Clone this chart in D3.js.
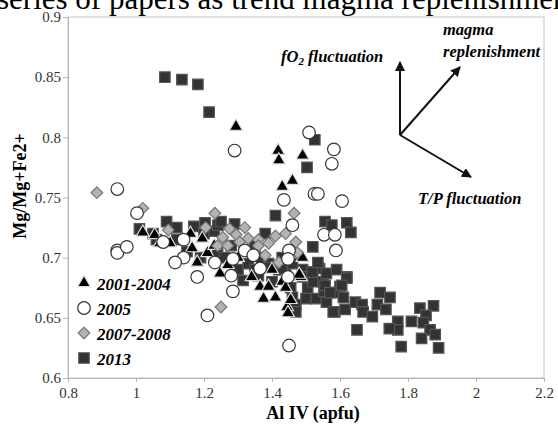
<!DOCTYPE html>
<html>
<head>
<meta charset="utf-8">
<script src="https://cdn.jsdelivr.net/npm/d3@7"></script>
<style>
  body { margin: 0; background: #fff; }
  svg { display: block; }
</style>
</head>
<body>
<svg width="558" height="434"></svg>
<script>
// tick labels
const xTicks = [0.8, 1, 1.2, 1.4, 1.6, 1.8, 2, 2.2];
const xTickLabels = ["0.8", "1", "1.2", "1.4", "1.6", "1.8", "2", "2.2"];
const yTicks = [0.6, 0.65, 0.7, 0.75, 0.8, 0.85, 0.9];
const yTickLabels = ["0.6", "0.65", "0.7", "0.75", "0.8", "0.85", "0.9"];

// series: [Al IV, Mg/Mg+Fe2+]
const s2013 = [
  [1.085,0.85],[1.135,0.848],[1.182,0.844],[1.215,0.821],[1.526,0.798],[1.503,0.775],[1.41,0.735],
  [1.01,0.724],[1.09,0.730],[1.17,0.726],[1.05,0.72],[1.12,0.715],[1.20,0.72],[1.23,0.722],[1.24,0.705],
  [1.26,0.70],[1.30,0.69],[1.315,0.681],[1.33,0.695],[1.37,0.70],[1.39,0.695],[1.42,0.69],[1.40,0.68],
  [1.44,0.69],[1.455,0.675],[1.46,0.667],[1.47,0.661],[1.47,0.655],[1.49,0.69],[1.50,0.666],[1.505,0.675],
  [1.52,0.688],[1.54,0.691],[1.53,0.666],[1.553,0.672],[1.56,0.663],[1.585,0.655],[1.52,0.709],[1.6,0.676],
  [1.52,0.68],[1.55,0.68],[1.203,0.729],[1.241,0.727],[1.35,0.69],[1.394,0.692],[1.43,0.69],[1.49,0.684],
  [1.518,0.688],[1.535,0.696],[1.56,0.687],[1.59,0.69],[1.62,0.684],[1.556,0.677],[1.585,0.671],
  [1.06,0.715],[1.15,0.705],[1.19,0.70],[1.28,0.71],[1.36,0.685],[1.12,0.725],[1.25,0.73],[1.29,0.728],
  [1.38,0.72],[1.43,0.70],[1.46,0.695],[1.35,0.71],
  [1.556,0.73],[1.576,0.727],[1.62,0.729],[1.632,0.721],[1.62,0.683],[1.605,0.677],[1.61,0.667],[1.58,0.655],
  [1.615,0.657],[1.645,0.663],[1.665,0.661],[1.668,0.655],[1.695,0.651],[1.71,0.661],[1.718,0.671],
  [1.747,0.667],[1.735,0.657],[1.65,0.64],[1.77,0.647],[1.77,0.64],[1.745,0.641],[1.78,0.626],[1.81,0.647],
  [1.835,0.658],[1.875,0.66],[1.853,0.652],[1.845,0.646],[1.865,0.64],[1.88,0.636],[1.84,0.633],[1.89,0.625],
  [1.57,0.671]
];
const s2001 = [
  [1.294,0.809],[1.418,0.789],[1.42,0.781],[1.49,0.785],[1.43,0.759],[1.46,0.764],
  [1.02,0.721],[1.055,0.719],[1.07,0.712],[1.10,0.712],[1.165,0.708],[1.195,0.716],[1.18,0.696],[1.21,0.704],
  [1.247,0.687],[1.27,0.694],[1.34,0.684],[1.365,0.676],[1.39,0.676],[1.375,0.666],[1.41,0.667],[1.43,0.68],
  [1.44,0.675],[1.444,0.659],[1.447,0.654],[1.485,0.684],[1.49,0.70],[1.48,0.686],[1.23,0.71],[1.30,0.70],
  [1.16,0.72],[1.40,0.69],[1.455,0.665]
];
const s2007 = [
  [0.885,0.754],[1.02,0.741],[1.095,0.723],[1.205,0.725],[1.232,0.737],[1.275,0.724],[1.255,0.717],
  [1.24,0.71],[1.295,0.719],[1.305,0.713],[1.33,0.716],[1.36,0.715],[1.39,0.712],[1.41,0.718],[1.47,0.713],
  [1.38,0.702],[1.42,0.696],[1.475,0.704],[1.25,0.659],[1.465,0.737],[1.36,0.71],[1.27,0.71],[1.32,0.725],
  [1.44,0.72]
];
const s2005 = [
  [0.945,0.757],[1.003,0.737],[0.945,0.706],[0.945,0.704],[0.973,0.709],[1.08,0.713],[1.14,0.715],[1.14,0.70],
  [1.115,0.696],[1.18,0.684],[1.21,0.652],[1.232,0.696],[1.285,0.699],[1.28,0.685],[1.32,0.706],[1.345,0.702],
  [1.365,0.691],[1.285,0.672],[1.45,0.627],[1.447,0.684],[1.45,0.706],[1.447,0.699],[1.29,0.789],[1.509,0.804],
  [1.582,0.79],[1.576,0.778],[1.525,0.753],[1.535,0.753],[1.606,0.747],[1.435,0.748],[1.46,0.727],[1.553,0.719],
  [1.585,0.719],[1.588,0.706]
];

const legendNames = ["2001-2004", "2005", "2007-2008", "2013"];

const serif = "'Liberation Serif', 'Times New Roman', serif";
const svg = d3.select("svg");
const x = d3.scaleLinear().domain([0.8, 2.2]).range([68, 544]);
const y = d3.scaleLinear().domain([0.6, 0.9]).range([378, 17]);

// cropped line of the surrounding page text
svg.append("text")
  .attr("x", -3).attr("y", 9)
  .attr("font-family", serif)
  .attr("font-size", 31)
  .text("series of papers as trend magma replenishment");

// frame
svg.append("rect")
  .attr("x", x(0.8)).attr("y", y(0.9))
  .attr("width", x(2.2) - x(0.8)).attr("height", y(0.6) - y(0.9))
  .attr("fill", "white").attr("stroke", "#c4c4c4");

const gx = svg.append("g")
  .attr("transform", `translate(0,${y(0.6)})`)
  .call(d3.axisBottom(x).tickValues(xTicks).tickFormat((d, i) => xTickLabels[i]).tickSize(4).tickPadding(5));

const gy = svg.append("g")
  .attr("transform", `translate(${x(0.8)},0)`)
  .call(d3.axisLeft(y).tickValues(yTicks).tickFormat((d, i) => yTickLabels[i]).tickSize(5).tickPadding(2));

[gx, gy].forEach(g => {
  g.selectAll("path, line").attr("stroke", "#b5b5b5");
  g.selectAll("text").attr("font-family", serif).attr("font-size", 15).attr("fill", "#333");
});

// axis titles
svg.append("text")
  .attr("transform", "translate(26,186) rotate(-90)")
  .attr("text-anchor", "middle")
  .attr("font-family", serif).attr("font-weight", "bold").attr("font-size", 18)
  .text("Mg/Mg+Fe2+");

svg.append("text")
  .attr("x", 313).attr("y", 419)
  .attr("text-anchor", "middle")
  .attr("font-family", serif).attr("font-weight", "bold").attr("font-size", 18)
  .text("Al IV (apfu)");

// marker styles
const styles = {
  "2013": { type: d3.symbolSquare, size: 110, fill: "#333", stroke: "#555", rot: 0 },
  "2001-2004": { type: d3.symbolTriangle, size: 72, fill: "#000", stroke: "#ddd", rot: 0 },
  "2007-2008": { type: d3.symbolSquare, size: 68, fill: "#b3b3b3", stroke: "#777", rot: 45 },
  "2005": { type: d3.symbolCircle, size: 125, fill: "#fff", stroke: "#333", rot: 0 }
};

function drawSeries(data, name) {
  const st = styles[name];
  svg.append("g").selectAll("path")
    .data(data)
    .join("path")
    .attr("d", d3.symbol().type(st.type).size(st.size))
    .attr("transform", d => `translate(${x(d[0])},${y(d[1])}) rotate(${st.rot})`)
    .attr("fill", st.fill)
    .attr("stroke", st.stroke)
    .attr("stroke-width", 1.2);
}

drawSeries(s2013, "2013");
drawSeries(s2001, "2001-2004");
drawSeries(s2007, "2007-2008");
drawSeries(s2005, "2005");

// legend
const legend = svg.append("g").attr("transform", "translate(84,283)");
legendNames.forEach((name, i) => {
  const st = styles[name];
  const row = legend.append("g").attr("transform", `translate(0,${i * 25})`);
  row.append("path")
    .attr("d", d3.symbol().type(st.type).size(st.size))
    .attr("transform", `rotate(${st.rot})`)
    .attr("fill", st.fill).attr("stroke", st.stroke).attr("stroke-width", 1.2);
  row.append("text")
    .attr("x", 13).attr("y", 7)
    .attr("font-family", serif).attr("font-weight", "bold")
    .attr("font-style", "italic").attr("font-size", 17)
    .text(name);
});

// trend arrows
svg.append("defs").append("marker")
  .attr("id", "head").attr("viewBox", "0 0 10 10")
  .attr("refX", 9).attr("refY", 5)
  .attr("markerWidth", 5).attr("markerHeight", 5)
  .attr("orient", "auto")
  .append("path").attr("d", "M0,0 L10,5 L0,10 Z").attr("fill", "#111");

const origin = [400, 135];
const tips = [[400, 62], [460, 67], [471, 177]];
tips.forEach(t => {
  svg.append("line")
    .attr("x1", origin[0]).attr("y1", origin[1])
    .attr("x2", t[0]).attr("y2", t[1])
    .attr("stroke", "#111").attr("stroke-width", 2)
    .attr("marker-end", "url(#head)");
});

const note = (xp, yp) => svg.append("text")
  .attr("x", xp).attr("y", yp)
  .attr("font-family", serif).attr("font-weight", "bold")
  .attr("font-style", "italic").attr("font-size", 16.5);

const fo2 = note(281, 62);
fo2.append("tspan").text("fO");
fo2.append("tspan").attr("dy", 3).attr("font-size", 11).text("2");
fo2.append("tspan").attr("dy", -3).text(" fluctuation");
note(443, 35).text("magma");
note(443, 57).text("replenishment");
note(418, 204).text("T/P fluctuation");
</script>
</body>
</html>
